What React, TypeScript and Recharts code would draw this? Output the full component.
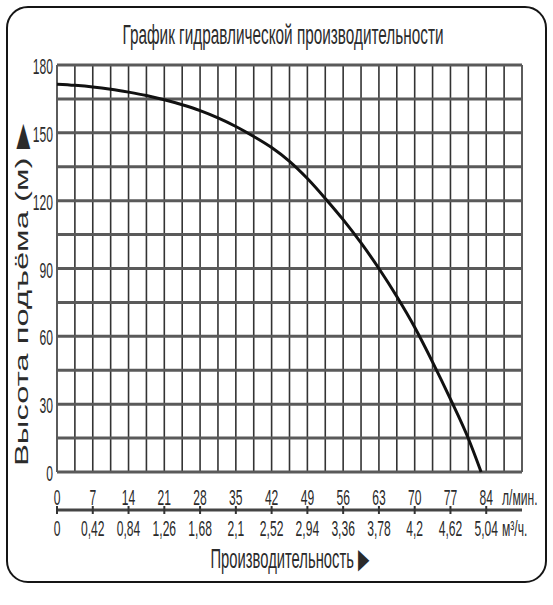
import { LineChart, Line, XAxis, YAxis, CartesianGrid, Customized } from "recharts";

const FONT = '"Liberation Sans", Arial, sans-serif';
const INK = "#2b2b2b";
const SX = 0.55; // the picture is stretched vertically, so horizontal text reads condensed

// flow in l/min and head in metres
const flowLpm = [0, 3.5, 7, 10.5, 14, 17.5, 21, 24.5, 28, 31.5, 35, 38.5, 42, 45.5, 49, 52.5, 56, 59.5, 63, 66.5, 70, 73.5, 77, 80.5, 83];
const headM = [171.5, 171, 170.3, 169.3, 168, 166.5, 164.6, 162.4, 159.8, 156.6, 152.8, 148.4, 143.5, 137.4, 129.8, 121, 111.6, 101.3, 90, 77.6, 64, 48.6, 32.2, 14.8, 0];

const gridFlow = [0, 3.5, 7, 10.5, 14, 17.5, 21, 24.5, 28, 31.5, 35, 38.5, 42, 45.5, 49, 52.5, 56, 59.5, 63, 66.5, 70, 73.5, 77, 80.5, 84, 87.5, 91];
const gridHead = [0, 15, 30, 45, 60, 75, 90, 105, 120, 135, 150, 165, 180];
const lpmTicks = [0, 7, 14, 21, 28, 35, 42, 49, 56, 63, 70, 77, 84];
const m3hLabels = ["0", "0,42", "0,84", "1,26", "1,68", "2,1", "2,52", "2,94", "3,36", "3,78", "4,2", "4,62", "5,04"];
const headLabels = [0, 30, 60, 90, 120, 150, 180];

const data = flowLpm.map((q, i) => ({ q, h: headM[i] }));

function Narrow({ x, y, anchor = "middle", children }: any) {
  return (
    <text
      transform={`translate(${x},${y}) scale(${SX},1)`}
      textAnchor={anchor}
      fontFamily={FONT}
      fontSize={22}
      fill={INK}
    >
      {children}
    </text>
  );
}

function LpmTick({ x, y, payload }: any) {
  if (!lpmTicks.includes(payload.value)) return <g />;
  return <Narrow x={x} y={y + 33}>{String(payload.value)}</Narrow>;
}

function M3hTick({ x, y, payload }: any) {
  const i = lpmTicks.indexOf(payload.value);
  return (
    <g>
      <line x1={x} x2={x} y1={y - 4} y2={y + 4} stroke="#333" strokeWidth={2} />
      <Narrow x={x} y={y + 26}>{m3hLabels[i]}</Narrow>
    </g>
  );
}

function HeadTick({ x, y, payload }: any) {
  if (!headLabels.includes(payload.value)) return <g />;
  return <Narrow x={x - 4} y={y + 9} anchor="end">{String(payload.value)}</Narrow>;
}

function UnitLabel({ viewBox, text, dy }: any) {
  const vb = viewBox || { x: 57, y: 472, width: 465 };
  return <Narrow x={vb.x + vb.width - 20} y={vb.y + dy} anchor="start">{text}</Narrow>;
}

// condensed heading: squeeze horizontally, then fit to the measured width
function Heading({ x, y, width, anchor = "start", children }: any) {
  const sx = 0.6;
  return (
    <text
      transform={`translate(${x},${y}) scale(${sx},1)`}
      fontSize={28}
      textAnchor={anchor}
      textLength={width / sx}
      lengthAdjust="spacingAndGlyphs"
    >
      {children}
    </text>
  );
}

function Titles() {
  return (
    <g fontFamily={FONT} fill={INK}>
      <Heading x={283} y={44} width={321} anchor="middle">
        График гидравлической производительности
      </Heading>
      <Heading x={210.5} y={568} width={159}>
        Производительность ▶
      </Heading>
      <text
        transform="translate(27.5,294.5) rotate(-90)"
        fontSize={18}
        textAnchor="middle"
        textLength={343}
        lengthAdjust="spacingAndGlyphs"
      >
        Высота подъёма (м) ▶
      </text>
    </g>
  );
}

export default function App() {
  return (
    <div style={{ position: "absolute", left: 0, top: 0, width: 553, height: 605, background: "#fff" }}>
      <div
        style={{
          position: "absolute",
          left: 6,
          top: 6,
          width: 537,
          height: 573,
          border: "2.5px solid #151515",
          borderRadius: 22,
        }}
      />
      <div style={{ position: "absolute", left: 0, top: 0 }}>
        <LineChart width={553} height={605} data={data} margin={{ top: 65, right: 31, bottom: 55, left: 0 }}>
          <CartesianGrid xAxisId="lpm" horizontal={false} stroke="#333" strokeWidth={1.6} />
          <CartesianGrid xAxisId="lpm" vertical={false} stroke="#5a5a5a" strokeWidth={3} />
          <XAxis
            xAxisId="lpm"
            dataKey="q"
            type="number"
            domain={[0, 91]}
            ticks={gridFlow}
            interval={0}
            height={38}
            axisLine={false}
            tickLine={false}
            tickSize={0}
            tickMargin={0}
            tick={<LpmTick />}
            label={<UnitLabel text="л/мин." dy={33} />}
          />
          <XAxis
            xAxisId="m3h"
            dataKey="q"
            type="number"
            domain={[0, 91]}
            ticks={lpmTicks}
            interval={0}
            height={40}
            axisLine={{ stroke: "#444", strokeWidth: 3 }}
            tickLine={false}
            tickSize={0}
            tickMargin={0}
            tick={<M3hTick />}
            label={<UnitLabel text="м³/ч." dy={26} />}
          />
          <YAxis
            type="number"
            domain={[0, 180]}
            ticks={gridHead}
            interval={0}
            width={57}
            axisLine={false}
            tickLine={false}
            tickSize={0}
            tickMargin={0}
            tick={<HeadTick />}
          />
          <Line
            xAxisId="lpm"
            dataKey="h"
            type="monotone"
            stroke="#111"
            strokeWidth={3}
            dot={false}
            isAnimationActive={false}
          />
          <Customized component={<Titles />} />
        </LineChart>
      </div>
    </div>
  );
}
